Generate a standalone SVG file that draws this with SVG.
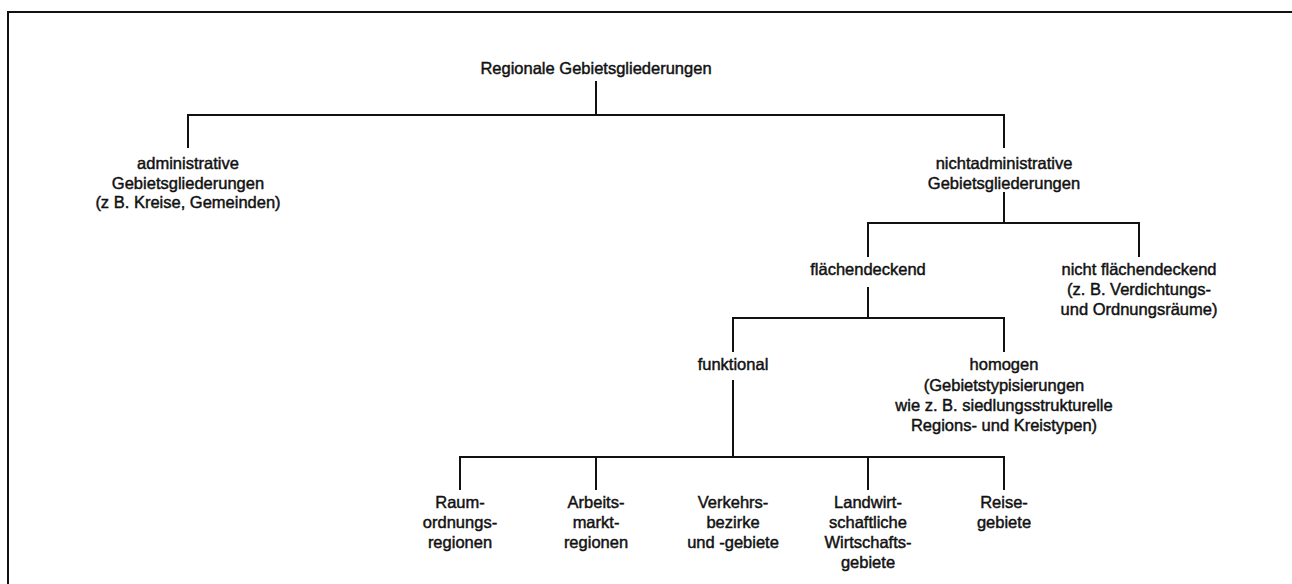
<svg xmlns="http://www.w3.org/2000/svg" width="1292" height="584" viewBox="0 0 1292 584">
<style>
text{font-family:"Liberation Sans",Arial,sans-serif;font-size:16.5px;fill:#111;stroke:#111;stroke-width:0.45;text-anchor:middle}
.c{stroke:#111;stroke-width:2;fill:none}
</style>
<rect width="1292" height="584" fill="#fff"/>
<path class="c" d="M8,584 V12 H1292"/>
<g id="connectors">
<path class="c" d="M596,81 V115 M188,148 V115 H1004 V148"/>
<path class="c" d="M1004,192 V223 M868,257 V223 H1139 V257"/>
<path class="c" d="M868,287 V318 M733,352 V318 H1004 V352"/>
<path class="c" d="M733,380 V457 M460,490 V457 H1004 V490 M596,457 V490 M868,457 V490"/>
</g>
<g id="root"><text x="596" y="74">Regionale Gebietsgliederungen</text></g>
<g id="admin"><text x="188" y="169">administrative</text><text x="188" y="189">Gebietsgliederungen</text><text x="188" y="208">(z  B. Kreise, Gemeinden)</text></g>
<g id="nichtadmin"><text x="1004" y="169">nichtadministrative</text><text x="1004" y="189">Gebietsgliederungen</text></g>
<g id="flaechendeckend"><text x="868" y="275">flächendeckend</text></g>
<g id="nichtflaechendeckend"><text x="1139" y="275">nicht flächendeckend</text><text x="1139" y="295">(z. B. Verdichtungs-</text><text x="1139" y="315">und Ordnungsräume)</text></g>
<g id="funktional"><text x="733" y="370">funktional</text></g>
<g id="homogen"><text x="1004" y="370">homogen</text><text x="1004" y="391">(Gebietstypisierungen</text><text x="1004" y="411">wie z. B. siedlungsstrukturelle</text><text x="1004" y="431">Regions- und Kreistypen)</text></g>
<g id="raum"><text x="460" y="508">Raum-</text><text x="460" y="528">ordnungs-</text><text x="460" y="548">regionen</text></g>
<g id="arbeit"><text x="596" y="508">Arbeits-</text><text x="596" y="528">markt-</text><text x="596" y="548">regionen</text></g>
<g id="verkehr"><text x="733" y="508">Verkehrs-</text><text x="733" y="528">bezirke</text><text x="733" y="548">und -gebiete</text></g>
<g id="landwirt"><text x="868" y="508">Landwirt-</text><text x="868" y="528">schaftliche</text><text x="868" y="548">Wirtschafts-</text><text x="868" y="568">gebiete</text></g>
<g id="reise"><text x="1004" y="508">Reise-</text><text x="1004" y="528">gebiete</text></g>
</svg>
